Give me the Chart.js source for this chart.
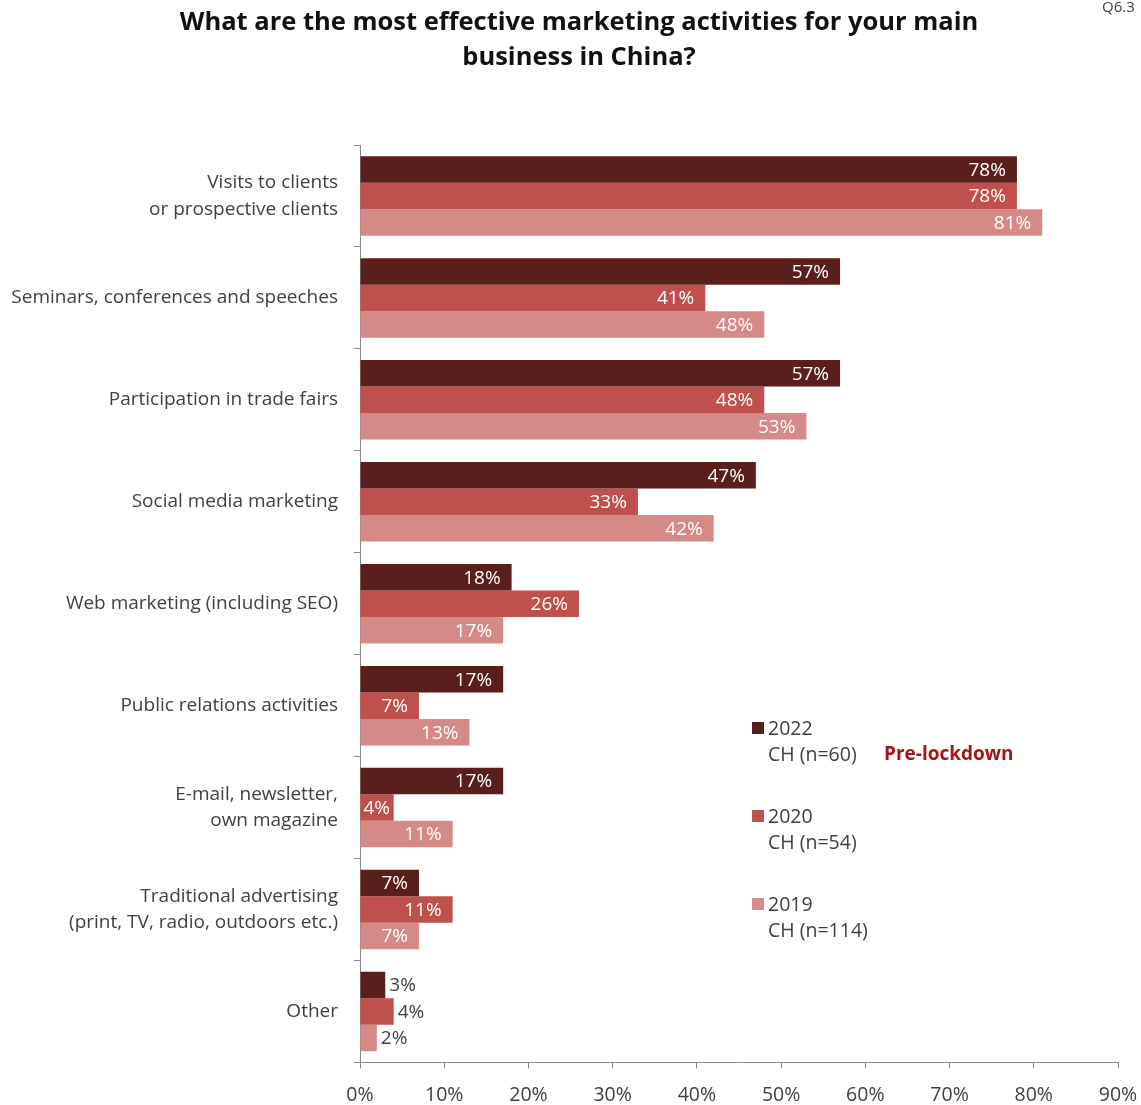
<!DOCTYPE html>
<html>
<head>
<meta charset="utf-8">
<script src="https://cdn.jsdelivr.net/npm/chart.js@4/dist/chart.umd.min.js"></script>
<style>
  html, body { margin: 0; padding: 0; background: #ffffff; }
  #wrap { position: relative; width: 1141px; height: 1105px; }
</style>
</head>
<body>
<div id="wrap"><canvas id="chart" width="1141" height="1105"></canvas></div>
<script>
// Survey question and answer categories
const titleLines = ['What are the most effective marketing activities for your main', 'business in China?'];
const questionId = 'Q6.3';
const categories = [
  ['Visits to clients', 'or prospective clients'],
  'Seminars, conferences and speeches',
  'Participation in trade fairs',
  'Social media marketing',
  'Web marketing (including SEO)',
  'Public relations activities',
  ['E-mail, newsletter,', 'own magazine'],
  ['Traditional advertising', '(print, TV, radio, outdoors etc.)'],
  'Other'
];

// Share of respondents (%) per survey wave
const values2022 = [78, 57, 57, 47, 18, 17, 17, 7, 3];
const values2020 = [78, 41, 48, 33, 26, 7, 4, 11, 4];
const values2019 = [81, 48, 53, 42, 17, 13, 11, 7, 2];

const seriesNames = ['2022', '2020', '2019'];
const sampleSizes = ['CH (n=60)', 'CH (n=54)', 'CH (n=114)'];
const seriesColors = ['#5a1f1d', '#c0504d', '#d68a88'];
const noteText = 'Pre-lockdown';

// x axis range and tick step (percent)
const xMin = 0;
const xMax = 90;
const xStep = 10;

const FONT = '"Open Sans", "Noto Sans", sans-serif';
const TEXT = '#404040';
const AXIS = '#8a8a8a';

// Title, question id, legend and value labels
const annotations = {
  id: 'annotations',
  afterDraw(chart) {
    const ctx = chart.ctx;
    ctx.save();

    // title
    ctx.fillStyle = '#111111';
    ctx.font = `bold 25.5px ${FONT}`;
    ctx.textAlign = 'center';
    ctx.textBaseline = 'middle';
    titleLines.forEach((t, i) => ctx.fillText(t, 579, 23 + i * 35));

    // question id in the corner
    ctx.font = `15px ${FONT}`;
    ctx.fillStyle = TEXT;
    ctx.textAlign = 'left';
    ctx.fillText(questionId, 1102, 8);

    // legend
    const lx = 752, ly = 728, gap = 88;
    seriesNames.forEach((name, i) => {
      const y = ly + i * gap;
      ctx.fillStyle = seriesColors[i];
      ctx.fillRect(lx, y - 6, 12, 12);
      ctx.fillStyle = TEXT;
      ctx.font = `19.5px ${FONT}`;
      ctx.textAlign = 'left';
      ctx.fillText(name, lx + 16, y + 1);
      ctx.fillText(sampleSizes[i], lx + 16, y + 27);
    });
    ctx.fillStyle = '#a3141c';
    ctx.font = `bold 19px ${FONT}`;
    ctx.fillText(noteText, 884, ly + 27);

    ctx.restore();
  },
  afterDatasetsDraw(chart) {
    const ctx = chart.ctx;
    ctx.save();
    ctx.font = `19px ${FONT}`;
    ctx.textBaseline = 'middle';
    const lastIndex = categories.length - 1;
    chart.data.datasets.forEach((ds, di) => {
      const meta = chart.getDatasetMeta(di);
      meta.data.forEach((bar, i) => {
        const label = ds.data[i] + '%';
        const w = ctx.measureText(label).width;
        if (i === lastIndex) {
          ctx.fillStyle = TEXT;
          ctx.textAlign = 'left';
          ctx.fillText(label, bar.x + 4, bar.y + 1);
        } else {
          ctx.fillStyle = '#ffffff';
          ctx.textAlign = 'right';
          const x = Math.max(bar.x - 11, bar.base + w + 3);
          ctx.fillText(label, x, bar.y + 1);
        }
      });
    });
    ctx.restore();
  }
};

new Chart(document.getElementById('chart'), {
  type: 'bar',
  data: {
    labels: categories,
    datasets: [
      { label: seriesNames[0], data: values2022, backgroundColor: seriesColors[0] },
      { label: seriesNames[1], data: values2020, backgroundColor: seriesColors[1] },
      { label: seriesNames[2], data: values2019, backgroundColor: seriesColors[2] }
    ]
  },
  options: {
    indexAxis: 'y',
    responsive: false,
    animation: false,
    devicePixelRatio: 1,
    layout: { padding: { top: 145, right: 23, bottom: 0, left: 0 } },
    datasets: { bar: { categoryPercentage: 0.78, barPercentage: 1.0, borderWidth: 0 } },
    plugins: {
      legend: { display: false },
      title: { display: false },
      tooltip: { enabled: false }
    },
    scales: {
      x: {
        position: 'bottom',
        min: xMin,
        max: xMax,
        afterFit(scale) {
          scale.height = 40;
          scale.paddingLeft = 0;
          scale.paddingRight = 0;
        },
        border: { color: AXIS, width: 1 },
        grid: { drawOnChartArea: false, drawTicks: true, tickLength: 6, color: AXIS },
        ticks: {
          stepSize: xStep,
          padding: 15,
          maxRotation: 0,
          color: TEXT,
          font: { family: FONT, size: 19.5 },
          callback: v => v + '%'
        }
      },
      y: {
        afterFit(scale) { scale.width = 360; },
        border: { color: AXIS, width: 1 },
        grid: { offset: true, drawOnChartArea: false, drawTicks: true, tickLength: 6, color: AXIS },
        ticks: {
          padding: 16,
          color: TEXT,
          font: { family: FONT, size: 19, lineHeight: 1.4 }
        }
      }
    }
  },
  plugins: [annotations]
});
</script>
</body>
</html>
